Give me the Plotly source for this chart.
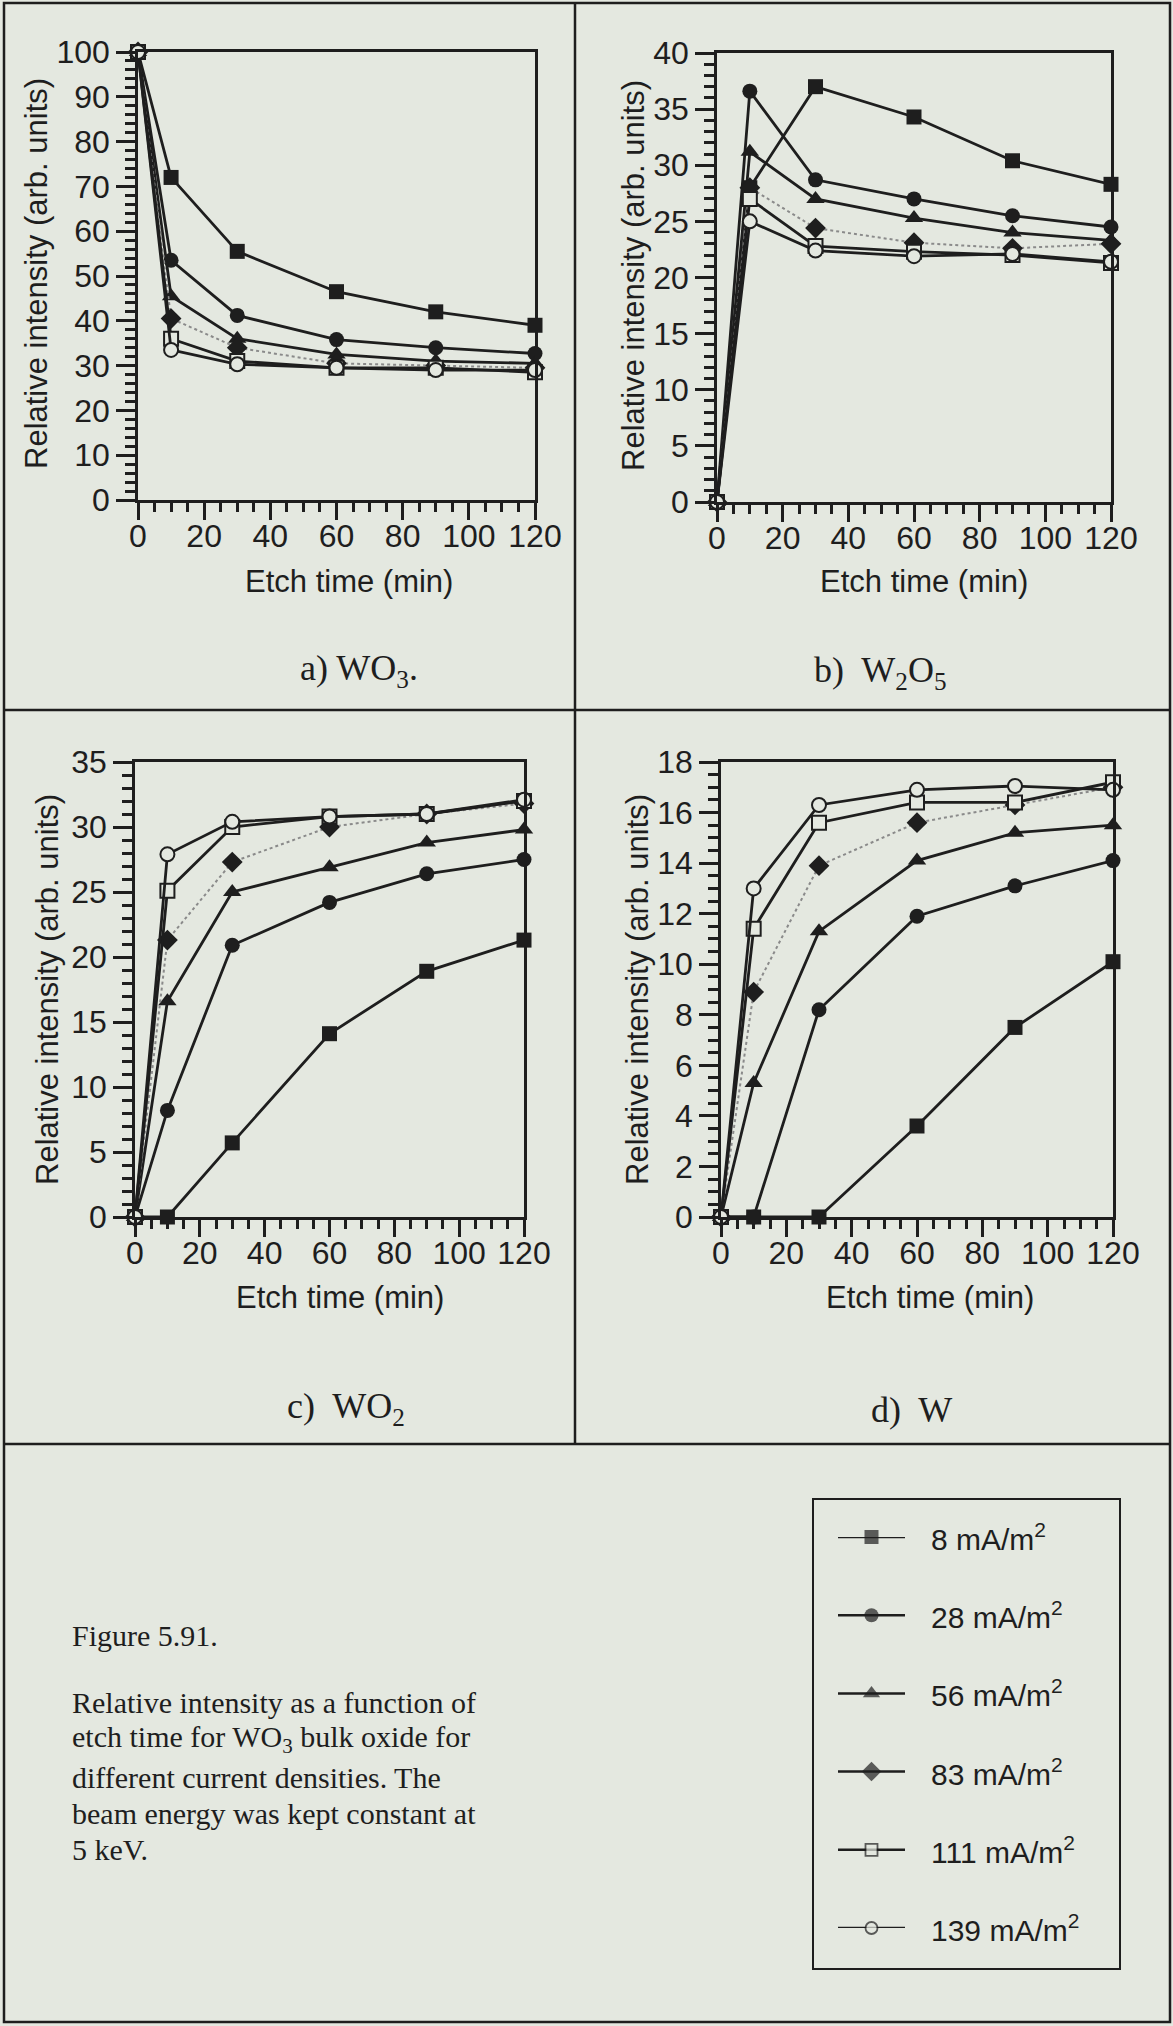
import plotly.graph_objects as go

# ---- data -------------------------------------------------------------
etch_time = [0, 10, 30, 60, 90, 120]
densities = ["8", "28", "56", "83", "111", "139"]

# relative intensity per current density (rows follow `densities`)
wo3 = [
    [100, 72.0, 55.5, 46.5, 42.0, 39.0],
    [100, 53.5, 41.2, 35.8, 34.0, 32.7],
    [100, 45.5, 36.0, 32.5, 31.0, 30.5],
    [100, 40.5, 34.0, 30.5, 30.0, 29.5],
    [100, 36.0, 31.0, 29.5, 29.5, 28.5],
    [100, 33.5, 30.3, 29.5, 29.0, 29.0],
]
w2o5 = [
    [0, 28.0, 37.0, 34.3, 30.4, 28.3],
    [0, 36.6, 28.7, 27.0, 25.5, 24.5],
    [0, 31.2, 27.0, 25.3, 24.0, 23.3],
    [0, 28.0, 24.4, 23.1, 22.6, 23.0],
    [0, 27.0, 22.8, 22.3, 22.0, 21.3],
    [0, 25.0, 22.4, 21.9, 22.1, 21.4],
]
wo2 = [
    [0, 0.0, 5.7, 14.1, 18.9, 21.3],
    [0, 8.2, 20.9, 24.2, 26.4, 27.5],
    [0, 16.6, 25.0, 26.9, 28.8, 29.8],
    [0, 21.3, 27.3, 30.0, 31.0, 31.8],
    [0, 25.1, 30.0, 30.8, 31.0, 32.0],
    [0, 27.9, 30.4, 30.8, 31.0, 32.1],
]
w_metal = [
    [0, 0.0, 0.0, 3.6, 7.5, 10.1],
    [0, 0.0, 8.2, 11.9, 13.1, 14.1],
    [0, 5.3, 11.3, 14.1, 15.2, 15.5],
    [0, 8.9, 13.9, 15.6, 16.3, 17.0],
    [0, 11.4, 15.6, 16.4, 16.4, 17.2],
    [0, 13.0, 16.3, 16.9, 17.05, 16.9],
]

panel_labels = ["a) WO<sub>3</sub>.", "b)  W<sub>2</sub>O<sub>5</sub>",
                "c)  WO<sub>2</sub>", "d)  W"]
y_ranges = [(0, 100), (0, 40), (0, 35), (0, 18)]
y_major = [10, 5, 5, 2]
y_minor = [2, 1, 1, 0.5]

caption_lines = [
    "Figure 5.91.",
    "Relative intensity as a function of",
    "etch time for WO<sub>3</sub> bulk oxide for",
    "different current densities. The",
    "beam energy was kept constant at",
    "5 keV.",
]

# ---- page geometry (pixels from the top-left corner) ------------------
W, H = 1173, 2026
BG = "#e4e8e0"
INK = "#1e1e1e"
SANS = "Liberation Sans, Arial, sans-serif"
SERIF = "Liberation Serif, Times New Roman, serif"


def px(x):
    return x / W


def py(y):
    return 1 - y / H


# plot frames: (left, right, top, bottom)
frames = [
    (138, 535, 52, 500),
    (717, 1111, 53, 502),
    (135, 524, 762, 1217),
    (721, 1113, 762, 1217),
]
xtitle_pos = [(349, 581), (924, 581), (340, 1297), (930, 1297)]
ytitle_pos = [(36, 274), (634, 276), (47, 990), (637, 990)]
label_pos = [(359, 670), (880, 672), (346, 1408), (911, 1410)]

symbols = ["square", "circle", "triangle-up", "diamond", "square", "circle"]
open_marker = [False, False, False, False, True, True]
sizes = [15, 15, 16, 16, 14, 14]

fig = go.Figure()
datasets = [wo3, w2o5, wo2, w_metal]

for p, data in enumerate(datasets):
    xa = "x" if p == 0 else f"x{p + 1}"
    ya = "y" if p == 0 else f"y{p + 1}"
    for s, vals in enumerate(data):
        dotted = s == 3
        fig.add_trace(go.Scatter(
            x=etch_time, y=vals, xaxis=xa, yaxis=ya,
            mode="lines+markers", showlegend=False, cliponaxis=False,
            line=dict(color="#8a8a8a" if dotted else INK,
                      width=2 if dotted else 2.8,
                      dash="dot" if dotted else "solid"),
            marker=dict(symbol=symbols[s], size=sizes[s],
                        color=BG if open_marker[s] else INK,
                        line=dict(color=INK, width=2 if open_marker[s] else 0)),
        ))

axis_common = dict(showline=True, linewidth=2.5, linecolor=INK, mirror=True,
                   showgrid=False, zeroline=False, ticks="outside",
                   tickwidth=2.5, tickcolor=INK, automargin=False,
                   tickfont=dict(family=SANS, size=32, color=INK))

for p, (l, r, t, b) in enumerate(frames):
    xk = "xaxis" if p == 0 else f"xaxis{p + 1}"
    yk = "yaxis" if p == 0 else f"yaxis{p + 1}"
    ya = "y" if p == 0 else f"y{p + 1}"
    xa = "x" if p == 0 else f"x{p + 1}"
    fig.layout[xk] = dict(axis_common, domain=[px(l), px(r)], anchor=ya,
                          range=[0, 120], tick0=0, dtick=20, ticklen=17,
                          ticklabelstandoff=-11,
                          minor=dict(dtick=5, ticklen=9, ticks="outside",
                                     tickwidth=2.5, tickcolor=INK))
    fig.layout[yk] = dict(axis_common, domain=[py(b), py(t)], anchor=xa,
                          range=list(y_ranges[p]), tick0=0, dtick=y_major[p],
                          ticklen=19,
                          minor=dict(dtick=y_minor[p], ticklen=10,
                                     ticks="outside", tickwidth=2.5,
                                     tickcolor=INK))


def note(text, x, y, size, family, xanchor="center", angle=0):
    return dict(text=text, x=px(x), y=py(y), xref="paper", yref="paper",
                xanchor=xanchor, yanchor="middle", showarrow=False,
                textangle=angle, font=dict(family=family, size=size, color=INK))


annotations = []
for p in range(4):
    xt, yt = xtitle_pos[p]
    annotations.append(note("Etch time (min)", xt, yt, 31, SANS))
    xt, yt = ytitle_pos[p]
    annotations.append(note("Relative intensity (arb. units)", xt, yt, 31,
                            SANS, angle=-90))
    xt, yt = label_pos[p]
    annotations.append(note(panel_labels[p], xt, yt, 36, SERIF))

# caption block
caption_y = [1635, 1702, 1739, 1777, 1813, 1849]
for line, yy in zip(caption_lines, caption_y):
    annotations.append(note(line, 70, yy, 30, SERIF, xanchor="left"))

# legend drawn on its own small axis
leg_top, leg_step = 1537, 78.2
leg_rows = list(range(len(densities)))
leg_sizes = [14, 14, 15, 15, 12, 12]
fig.layout["xaxis5"] = dict(domain=[px(838), px(905)], range=[0, 1],
                            visible=False, anchor="y5", automargin=False)
fig.layout["yaxis5"] = dict(domain=[py(leg_top + 5 * leg_step), py(leg_top)],
                            range=[5, 0], visible=False, anchor="x5",
                            automargin=False)
for s in leg_rows:
    fig.add_trace(go.Scatter(
        x=[0, 0.5, 1], y=[s, s, s], xaxis="x5", yaxis="y5",
        mode="lines+markers", showlegend=False, cliponaxis=False,
        line=dict(color=INK, width=2.5),
        marker=dict(symbol=symbols[s], size=[0, leg_sizes[s], 0],
                    color=BG if open_marker[s] else INK,
                    line=dict(color=INK, width=1.8 if open_marker[s] else 0)),
    ))
    annotations.append(note(f"{densities[s]} mA/m<sup>2</sup>", 929,
                            leg_top + s * leg_step, 30, SANS, xanchor="left"))

# page frame, panel dividers and legend box
line_style = dict(color=INK, width=2.5)
shapes = [
    dict(type="rect", xref="paper", yref="paper", x0=px(4), x1=px(1170),
         y0=py(2022), y1=py(3), line=line_style),
    dict(type="line", xref="paper", yref="paper", x0=px(575), x1=px(575),
         y0=py(3), y1=py(1444), line=line_style),
    dict(type="line", xref="paper", yref="paper", x0=px(4), x1=px(1170),
         y0=py(710), y1=py(710), line=line_style),
    dict(type="line", xref="paper", yref="paper", x0=px(4), x1=px(1170),
         y0=py(1444), y1=py(1444), line=line_style),
    dict(type="rect", xref="paper", yref="paper", x0=px(813), x1=px(1120),
         y0=py(1969), y1=py(1499), line=dict(color=INK, width=2)),
]

fig.update_layout(width=W, height=H,
                  margin=dict(l=0, r=0, t=0, b=0, pad=0, autoexpand=False),
                  paper_bgcolor=BG, plot_bgcolor=BG, showlegend=False,
                  annotations=annotations, shapes=shapes)

fig.write_html("out.html")
